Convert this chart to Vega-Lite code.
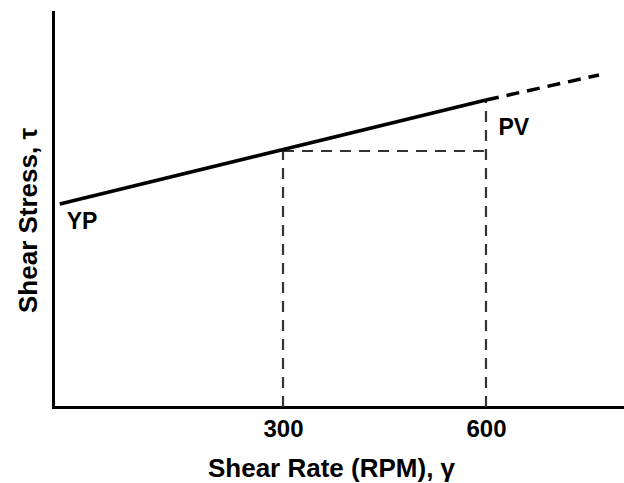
{
  "$schema": "https://vega.github.io/schema/vega-lite/v6.json",
  "width": 571,
  "height": 395,
  "autosize": {"type": "none"},
  "padding": {"left": 53, "top": 12, "right": 0, "bottom": 76},
  "background": "white",
  "config": {
    "view": {"stroke": null},
    "font": "Liberation Sans",
    "axis": {"grid": false, "domainColor": "black", "domainWidth": 3, "domainCap": "square", "ticks": false}
  },
  "datasets": {
    "solid": [
      {"rate": -30, "stress": 203},
      {"rate": 600, "stress": 307}
    ],
    "ext": [
      {"rate": 600, "stress": 307},
      {"rate": 767, "stress": 332}
    ],
    "vrefs": [
      {"rate": 300, "stress": 256, "base": 0},
      {"rate": 600, "stress": 307, "base": 0}
    ],
    "href": [
      {"rate": 300, "rate2": 600, "stress": 256}
    ],
    "labels": [
      {"rate": 3, "stress": 185, "label": "YP"},
      {"rate": 641, "stress": 279, "label": "PV"}
    ]
  },
  "layer": [
    {
      "data": {"name": "vrefs"},
      "mark": {"type": "rule", "color": "#333", "strokeWidth": 2.2, "strokeDash": [11, 8]},
      "encoding": {
        "x": {"field": "rate", "type": "quantitative", "scale": {"domain": [-40, 804], "nice": false, "zero": false},
          "axis": {"values": [300, 600], "title": "Shear Rate (RPM), γ", "labelFontSize": 24, "labelFontWeight": "bold", "labelColor": "black", "labelPadding": 10, "titleFontSize": 26, "titleFontWeight": "bold", "titleColor": "black", "titlePadding": 14, "titleX": 278, "titleAnchor": "start", "titleAlign": "center"}},
        "y": {"field": "base", "type": "quantitative", "scale": {"domain": [0, 395], "nice": false},
          "axis": {"labels": false, "title": "Shear Stress, τ", "titleFontSize": 26, "titleFontWeight": "bold", "titleColor": "black", "titlePadding": 12, "titleY": 208, "titleAnchor": "start", "titleAlign": "center"}},
        "y2": {"field": "stress"}
      }
    },
    {
      "data": {"name": "href"},
      "mark": {"type": "rule", "color": "#333", "strokeWidth": 2.2, "strokeDash": [11, 8]},
      "encoding": {
        "x": {"field": "rate", "type": "quantitative"},
        "x2": {"field": "rate2"},
        "y": {"field": "stress", "type": "quantitative"}
      }
    },
    {
      "data": {"name": "solid"},
      "mark": {"type": "line", "color": "black", "strokeWidth": 3.5},
      "encoding": {
        "x": {"field": "rate", "type": "quantitative"},
        "y": {"field": "stress", "type": "quantitative"}
      }
    },
    {
      "data": {"name": "ext"},
      "mark": {"type": "line", "color": "black", "strokeWidth": 3.5, "strokeDash": [13, 8]},
      "encoding": {
        "x": {"field": "rate", "type": "quantitative"},
        "y": {"field": "stress", "type": "quantitative"}
      }
    },
    {
      "data": {"name": "labels"},
      "mark": {"type": "text", "fontSize": 23, "fontWeight": "bold", "color": "black"},
      "encoding": {
        "x": {"field": "rate", "type": "quantitative"},
        "y": {"field": "stress", "type": "quantitative"},
        "text": {"field": "label"}
      }
    }
  ]
}
